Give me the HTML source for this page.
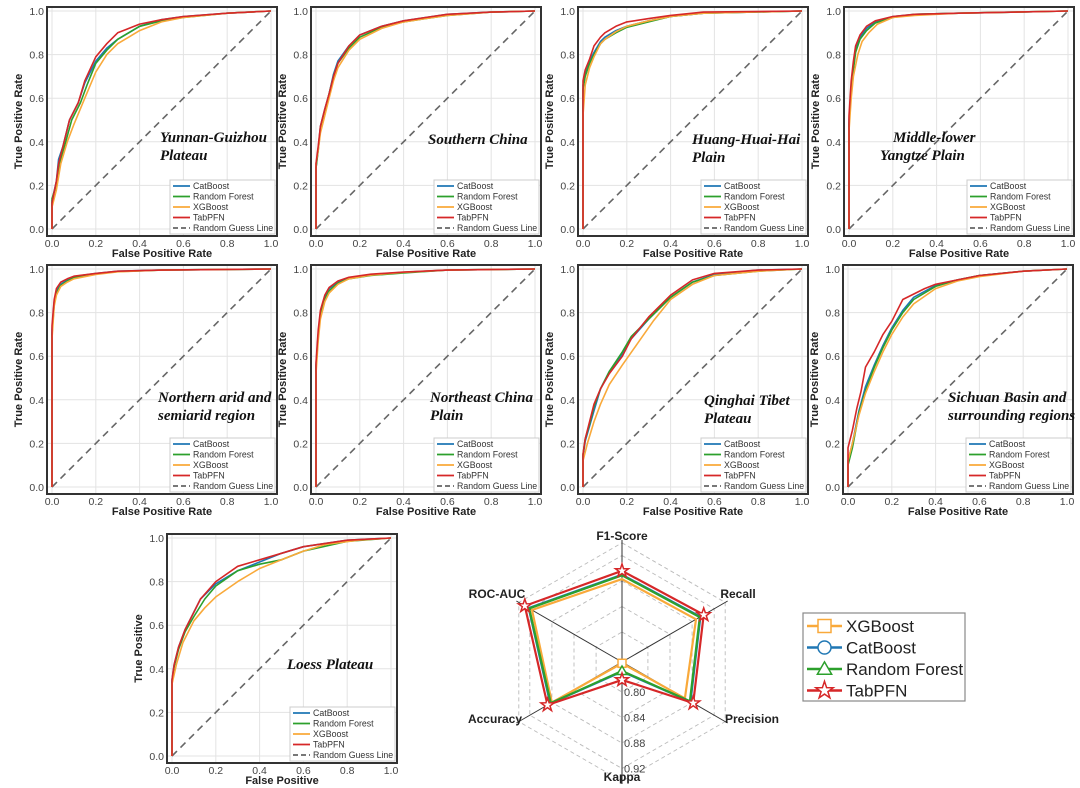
<!DOCTYPE html>
<html><head><meta charset="utf-8">
<style>
html,body{margin:0;padding:0;background:#fff;}
svg{display:block;font-family:"Liberation Sans",Arial,sans-serif;}
</style></head>
<body>
<svg id="fig" width="1080" height="788" viewBox="0 0 1080 788" xmlns="http://www.w3.org/2000/svg"></svg>
<script>
// ---------- ROC data (x = FPR, y = TPR) ----------
const yunnanCat = [[0,0],[0,0.13],[0.02,0.22],[0.03,0.32],[0.05,0.38],[0.08,0.5],[0.12,0.58],[0.15,0.67],[0.2,0.77],[0.25,0.83],[0.3,0.87],[0.4,0.93],[0.5,0.96],[0.6,0.975],[0.8,0.99],[1,1]];
const yunnanRF = [[0,0],[0,0.14],[0.02,0.2],[0.04,0.32],[0.06,0.39],[0.09,0.5],[0.13,0.58],[0.16,0.66],[0.2,0.76],[0.25,0.82],[0.3,0.87],[0.4,0.93],[0.5,0.955],[0.6,0.97],[0.8,0.99],[1,1]];
const yunnanXGB = [[0,0],[0,0.1],[0.02,0.18],[0.04,0.3],[0.07,0.4],[0.1,0.48],[0.15,0.6],[0.2,0.72],[0.25,0.8],[0.3,0.85],[0.4,0.91],[0.5,0.95],[0.6,0.97],[0.8,0.99],[1,1]];
const yunnanTab = [[0,0],[0,0.12],[0.02,0.22],[0.03,0.3],[0.05,0.38],[0.08,0.5],[0.12,0.58],[0.15,0.68],[0.2,0.79],[0.25,0.85],[0.3,0.9],[0.4,0.94],[0.5,0.96],[0.6,0.975],[0.8,0.99],[1,1]];

const southCat = [[0,0],[0,0.28],[0.01,0.37],[0.02,0.47],[0.04,0.55],[0.06,0.62],[0.08,0.71],[0.1,0.77],[0.15,0.84],[0.2,0.89],[0.3,0.93],[0.4,0.955],[0.5,0.97],[0.6,0.985],[0.8,0.995],[1,1]];
const southRF = [[0,0],[0,0.28],[0.01,0.36],[0.02,0.46],[0.04,0.54],[0.06,0.62],[0.08,0.7],[0.1,0.76],[0.15,0.83],[0.2,0.88],[0.3,0.925],[0.4,0.95],[0.5,0.965],[0.6,0.98],[0.8,0.995],[1,1]];
const southXGB = [[0,0],[0,0.3],[0.01,0.36],[0.02,0.44],[0.04,0.52],[0.06,0.6],[0.08,0.68],[0.1,0.74],[0.15,0.82],[0.2,0.87],[0.3,0.92],[0.4,0.95],[0.5,0.965],[0.6,0.98],[0.8,0.995],[1,1]];
const southTab = [[0,0],[0,0.3],[0.01,0.38],[0.02,0.47],[0.04,0.55],[0.06,0.62],[0.08,0.7],[0.1,0.76],[0.15,0.84],[0.2,0.89],[0.3,0.93],[0.4,0.955],[0.5,0.97],[0.6,0.985],[0.8,0.995],[1,1]];

const huangCat = [[0,0],[0,0.66],[0.01,0.71],[0.03,0.77],[0.05,0.81],[0.08,0.86],[0.1,0.88],[0.15,0.91],[0.2,0.93],[0.3,0.955],[0.4,0.975],[0.55,0.99],[1,1]];
const huangRF = [[0,0],[0,0.64],[0.01,0.7],[0.03,0.76],[0.05,0.8],[0.08,0.85],[0.1,0.87],[0.15,0.9],[0.2,0.925],[0.3,0.95],[0.4,0.975],[0.55,0.99],[1,1]];
const huangXGB = [[0,0],[0,0.52],[0.01,0.66],[0.03,0.74],[0.05,0.79],[0.08,0.85],[0.1,0.87],[0.15,0.905],[0.2,0.93],[0.3,0.955],[0.4,0.975],[0.55,0.99],[1,1]];
const huangTab = [[0,0],[0,0.68],[0.01,0.73],[0.03,0.78],[0.05,0.84],[0.08,0.88],[0.1,0.9],[0.15,0.93],[0.2,0.95],[0.3,0.965],[0.4,0.98],[0.55,0.995],[1,1]];

const middleCat = [[0,0],[0,0.5],[0.01,0.65],[0.02,0.75],[0.03,0.82],[0.05,0.88],[0.08,0.92],[0.12,0.95],[0.2,0.975],[0.3,0.985],[0.5,0.99],[1,1]];
const middleRF = [[0,0],[0,0.48],[0.01,0.63],[0.02,0.73],[0.03,0.81],[0.05,0.87],[0.08,0.91],[0.12,0.945],[0.2,0.97],[0.3,0.985],[0.5,0.99],[1,1]];
const middleXGB = [[0,0],[0,0.45],[0.01,0.6],[0.02,0.7],[0.04,0.8],[0.06,0.86],[0.09,0.9],[0.13,0.94],[0.2,0.97],[0.3,0.98],[0.5,0.99],[1,1]];
const middleTab = [[0,0],[0,0.52],[0.01,0.68],[0.02,0.77],[0.03,0.84],[0.05,0.89],[0.08,0.93],[0.12,0.955],[0.2,0.975],[0.3,0.985],[0.5,0.99],[1,1]];

const northCat = [[0,0],[0,0.72],[0.01,0.85],[0.02,0.9],[0.04,0.93],[0.07,0.95],[0.1,0.965],[0.2,0.98],[0.3,0.99],[0.5,0.995],[1,1]];
const northRF = [[0,0],[0,0.7],[0.01,0.84],[0.02,0.89],[0.04,0.925],[0.07,0.945],[0.1,0.96],[0.2,0.978],[0.3,0.988],[0.5,0.995],[1,1]];
const northXGB = [[0,0],[0,0.68],[0.01,0.83],[0.02,0.88],[0.04,0.92],[0.07,0.94],[0.1,0.955],[0.2,0.975],[0.3,0.987],[0.5,0.995],[1,1]];
const northTab = [[0,0],[0,0.74],[0.01,0.86],[0.02,0.91],[0.04,0.94],[0.07,0.955],[0.1,0.967],[0.2,0.98],[0.3,0.99],[0.5,0.995],[1,1]];

const neCat = [[0,0],[0,0.56],[0.01,0.7],[0.02,0.8],[0.04,0.87],[0.06,0.91],[0.1,0.94],[0.15,0.96],[0.25,0.975],[0.4,0.985],[0.6,0.995],[1,1]];
const neRF = [[0,0],[0,0.55],[0.01,0.69],[0.02,0.79],[0.04,0.86],[0.06,0.9],[0.1,0.935],[0.15,0.955],[0.25,0.97],[0.4,0.982],[0.6,0.995],[1,1]];
const neXGB = [[0,0],[0,0.52],[0.01,0.67],[0.02,0.77],[0.04,0.85],[0.06,0.89],[0.1,0.93],[0.15,0.955],[0.25,0.972],[0.4,0.985],[0.6,0.995],[1,1]];
const neTab = [[0,0],[0,0.57],[0.01,0.72],[0.02,0.81],[0.04,0.88],[0.06,0.915],[0.1,0.945],[0.15,0.962],[0.25,0.976],[0.4,0.986],[0.6,0.995],[1,1]];

const qingCat = [[0,0],[0,0.14],[0.01,0.21],[0.03,0.28],[0.05,0.35],[0.08,0.45],[0.12,0.53],[0.18,0.61],[0.22,0.68],[0.3,0.77],[0.4,0.87],[0.5,0.94],[0.6,0.975],[0.8,0.995],[1,1]];
const qingRF = [[0,0],[0,0.15],[0.01,0.22],[0.03,0.29],[0.05,0.37],[0.08,0.45],[0.12,0.53],[0.18,0.62],[0.22,0.69],[0.3,0.77],[0.4,0.87],[0.5,0.94],[0.6,0.97],[0.8,0.99],[1,1]];
const qingXGB = [[0,0],[0,0.12],[0.02,0.2],[0.05,0.3],[0.08,0.38],[0.12,0.47],[0.18,0.56],[0.25,0.66],[0.32,0.76],[0.4,0.86],[0.5,0.93],[0.6,0.97],[0.8,0.99],[1,1]];
const qingTab = [[0,0],[0,0.15],[0.01,0.22],[0.03,0.3],[0.05,0.38],[0.08,0.45],[0.12,0.52],[0.18,0.6],[0.22,0.68],[0.3,0.78],[0.4,0.88],[0.5,0.95],[0.6,0.98],[0.8,0.995],[1,1]];

const sichCat = [[0,0],[0,0.12],[0.02,0.2],[0.05,0.35],[0.08,0.46],[0.12,0.56],[0.16,0.65],[0.2,0.73],[0.25,0.81],[0.3,0.87],[0.4,0.925],[0.5,0.95],[0.6,0.97],[0.8,0.99],[1,1]];
const sichRF = [[0,0],[0,0.1],[0.02,0.18],[0.05,0.34],[0.08,0.44],[0.12,0.55],[0.16,0.64],[0.2,0.72],[0.25,0.8],[0.3,0.86],[0.4,0.92],[0.5,0.95],[0.6,0.97],[0.8,0.99],[1,1]];
const sichXGB = [[0,0],[0,0.12],[0.02,0.2],[0.05,0.33],[0.08,0.43],[0.12,0.53],[0.16,0.62],[0.2,0.7],[0.25,0.78],[0.3,0.84],[0.4,0.91],[0.5,0.945],[0.6,0.965],[0.8,0.99],[1,1]];
const sichTab = [[0,0],[0,0.18],[0.02,0.26],[0.04,0.36],[0.06,0.44],[0.08,0.55],[0.12,0.62],[0.16,0.7],[0.2,0.76],[0.25,0.86],[0.35,0.91],[0.4,0.93],[0.5,0.95],[0.6,0.97],[0.8,0.99],[1,1]];

const loessCat = [[0,0],[0,0.35],[0.01,0.42],[0.03,0.5],[0.06,0.58],[0.1,0.66],[0.13,0.72],[0.2,0.79],[0.3,0.85],[0.4,0.89],[0.5,0.93],[0.6,0.96],[0.8,0.99],[1,1]];
const loessRF = [[0,0],[0,0.34],[0.01,0.41],[0.03,0.49],[0.06,0.57],[0.1,0.64],[0.15,0.72],[0.2,0.78],[0.3,0.85],[0.4,0.88],[0.5,0.9],[0.6,0.94],[0.8,0.985],[1,1]];
const loessXGB = [[0,0],[0,0.33],[0.02,0.42],[0.05,0.52],[0.1,0.62],[0.15,0.68],[0.2,0.73],[0.3,0.8],[0.4,0.86],[0.5,0.9],[0.6,0.94],[0.7,0.97],[0.85,0.99],[1,1]];
const loessTab = [[0,0],[0,0.35],[0.01,0.42],[0.03,0.5],[0.06,0.58],[0.1,0.66],[0.13,0.72],[0.2,0.8],[0.3,0.87],[0.4,0.9],[0.5,0.93],[0.6,0.96],[0.8,0.99],[1,1]];

const axisTicks = [0, 0.2, 0.4, 0.6, 0.8, 1.0];
const tickLabels = ["0.0","0.2","0.4","0.6","0.8","1.0"];
const modelNames = ["CatBoost","Random Forest","XGBoost","TabPFN"];

// ---------- Radar data ----------
const radarAxes = ["F1-Score","Recall","Precision","Kappa","Accuracy","ROC-AUC"];
const radarXGB = [0.883, 0.887, 0.867, 0.755, 0.880, 0.916];
const radarCat = [0.890, 0.895, 0.877, 0.768, 0.883, 0.922];
const radarRF  = [0.889, 0.894, 0.876, 0.767, 0.882, 0.921];
const radarTab = [0.896, 0.901, 0.882, 0.781, 0.888, 0.929];
const radarRings = [0.80, 0.84, 0.88, 0.92];
const radarRingLabels = ["0.80","0.84","0.88","0.92"];

const NS = "http://www.w3.org/2000/svg";
const svg = document.getElementById("fig");
const COLORS = ["#1f77b4","#2ca02c","#f9a93a","#d62728"];
function mk(tag, attrs, parent){
  const e = document.createElementNS(NS, tag);
  for (const k in attrs) e.setAttribute(k, attrs[k]);
  (parent||svg).appendChild(e);
  return e;
}

const panels = [
  {fx:47,fy:7,title:["Yunnan-Guizhou","Plateau"],tx:160,ty:137,series:[yunnanCat,yunnanRF,yunnanXGB,yunnanTab],name:"yunnan-guizhou"},
  {fx:311,fy:7,title:["Southern China"],tx:428,ty:139,series:[southCat,southRF,southXGB,southTab],name:"southern-china"},
  {fx:578,fy:7,title:["Huang-Huai-Hai","Plain"],tx:692,ty:139,series:[huangCat,huangRF,huangXGB,huangTab],name:"huang-huai-hai"},
  {fx:844,fy:7,title:["Middle-lower","Yangtze Plain"],tx:893,ty:137,tx2:880,series:[middleCat,middleRF,middleXGB,middleTab],name:"middle-lower-yangtze"},
  {fx:47,fy:265,title:["Northern arid and","semiarid region"],tx:158,ty:397,series:[northCat,northRF,northXGB,northTab],name:"northern-arid"},
  {fx:311,fy:265,title:["Northeast China","Plain"],tx:430,ty:397,series:[neCat,neRF,neXGB,neTab],name:"northeast-china"},
  {fx:578,fy:265,title:["Qinghai Tibet","Plateau"],tx:704,ty:400,series:[qingCat,qingRF,qingXGB,qingTab],name:"qinghai-tibet"},
  {fx:843,fy:265,title:["Sichuan Basin and","surrounding regions"],tx:948,ty:397,series:[sichCat,sichRF,sichXGB,sichTab],name:"sichuan-basin"},
  {fx:167,fy:534,title:["Loess Plateau"],tx:287,ty:664,series:[loessCat,loessRF,loessXGB,loessTab],name:"loess-plateau",yl:"True Positive",xl:"False Positive"}
];

panels.forEach(p => {
  const W = 230, H = 229;
  const g = mk("g", {});
  
  
  const x0 = p.fx + 5, x1 = p.fx + W - 6, y0 = p.fy + H - 7, y1 = p.fy + 4;
  const sx = v => x0 + v * (x1 - x0);
  const sy = v => y0 - v * (y0 - y1);
  // grid
  axisTicks.forEach((t,i) => {
    mk("line",{x1:sx(t),x2:sx(t),y1:p.fy,y2:p.fy+H,stroke:"#e3e3e3","stroke-width":1},g);
    mk("line",{x1:p.fx,x2:p.fx+W,y1:sy(t),y2:sy(t),stroke:"#e3e3e3","stroke-width":1},g);
    const tx = mk("text",{x:sx(t),y:p.fy+H+11,"font-size":10.5,fill:"#444","text-anchor":"middle"},g);
    tx.textContent = tickLabels[i];
    
    
    const ty = mk("text",{x:p.fx-3,y:sy(t)+4,"font-size":10.5,fill:"#444","text-anchor":"end"},g);
    ty.textContent = tickLabels[i];
    
    
  });
  // diagonal
  const d = mk("line",{x1:sx(0),y1:sy(0),x2:sx(1),y2:sy(1),stroke:"#666","stroke-width":1.6,"stroke-dasharray":"7,5"},g);
  
  
  // curves
  p.series.forEach((s,i) => {
    const pts = s.map(q => sx(q[0]).toFixed(1)+","+sy(q[1]).toFixed(1)).join(" ");
    const pl = mk("polyline",{points:pts,fill:"none",stroke:COLORS[i],"stroke-width":1.6,"stroke-linejoin":"round"},g);
    
    
  });
  // frame
  mk("rect",{x:p.fx,y:p.fy,width:W,height:H,fill:"none",stroke:"#333","stroke-width":2},g);
  // axis titles
  const xl = mk("text",{x:p.fx+W/2,y:p.fy+H+21,"font-size":11,"font-weight":"bold",fill:"#222","text-anchor":"middle"},g);
  xl.textContent = p.xl || "False Positive Rate";
  
  
  const cy = p.fy + H/2;
  const yl = mk("text",{x:p.fx-25,y:cy,"font-size":11,"font-weight":"bold",fill:"#222","text-anchor":"middle",transform:`rotate(-90 ${p.fx-25} ${cy})`},g);
  yl.textContent = p.yl || "True Positive Rate";
  
  
  // region title
  p.title.forEach((t,i) => {
    const tt = mk("text",{x:(i===1&&p.tx2)?p.tx2:p.tx,y:p.ty+5+i*18,"font-size":15,"font-weight":"bold","font-style":"italic","font-family":"Liberation Serif, serif",fill:"#111"},g);
    tt.textContent = t;
    
    
  });
  // legend
  const lx = p.fx + W - 107, ly = p.fy + H - 56;
  const lg = mk("g",{},g);
  
  
  mk("rect",{x:lx,y:ly,width:105,height:54,fill:"#fff",stroke:"#ccc","stroke-width":1},lg);
  const labels = modelNames.concat(["Random Guess Line"]);
  labels.forEach((l,i) => {
    const yy = ly + 6 + i*10.5;
    mk("line",{x1:lx+3,x2:lx+20,y1:yy,y2:yy,stroke:i<4?COLORS[i]:"#666","stroke-width":1.8,"stroke-dasharray":i<4?"none":"5,3"},lg);
    const t = mk("text",{x:lx+23,y:yy+3.2,"font-size":8.8,fill:"#333"},lg);
    t.textContent = l;
    
    
  });
});

// ---------- Radar ----------
const rc = {x:622, y:662};
const rMin = 0.753, rScale = 637.5;
const rr = v => (v - rMin) * rScale;
const angles = [90, 30, -30, -90, -150, 150].map(a => a*Math.PI/180);
const pt = (i, r) => [rc.x + r*Math.cos(angles[i]), rc.y - r*Math.sin(angles[i])];
const rg = mk("g",{});


radarRings.concat([0.94]).forEach(v => {
  const pts = angles.map((a,i) => pt(i, rr(v)).map(n=>n.toFixed(1)).join(",")).join(" ");
  mk("polygon",{points:pts,fill:"none",stroke:"#bbb","stroke-width":0.9,"stroke-dasharray":"4,3"},rg);
});
angles.forEach((a,i) => {
  const e = pt(i, 122);
  mk("line",{x1:rc.x,y1:rc.y,x2:e[0],y2:e[1],stroke:"#333","stroke-width":1},rg);
});
radarRings.forEach((v,i) => {
  const t = mk("text",{x:rc.x+2,y:rc.y+rr(v)+4,"font-size":11,fill:"#444"},rg);
  t.textContent = radarRingLabels[i];
  
  
});
const axisLabelPos = [[622,540,"middle"],[738,598,"middle"],[752,723,"middle"],[622,781,"middle"],[495,723,"middle"],[497,598,"middle"]];
radarAxes.forEach((l,i) => {
  const t = mk("text",{x:axisLabelPos[i][0],y:axisLabelPos[i][1],"font-size":12,"font-weight":"bold",fill:"#222","text-anchor":axisLabelPos[i][2]},rg);
  t.textContent = l;
  
  
});
const radarSeries = [radarXGB, radarCat, radarRF, radarTab];
const radarColors = ["#f9a93a","#1f77b4","#2ca02c","#d62728"];
const radarNames = ["XGBoost","CatBoost","Random Forest","TabPFN"];
function marker(parent, kind, x, y, color, s){
  if (kind===0) return mk("rect",{x:x-s,y:y-s,width:2*s,height:2*s,fill:"#fff",stroke:color,"stroke-width":1.5},parent);
  if (kind===1) return mk("circle",{cx:x,cy:y,r:s,fill:"#fff",stroke:color,"stroke-width":1.5},parent);
  if (kind===2) return mk("polygon",{points:`${x},${y-s*1.1} ${x+s*1.1},${y+s*0.8} ${x-s*1.1},${y+s*0.8}`,fill:"#fff",stroke:color,"stroke-width":1.5},parent);
  let pts=[];
  for(let k=0;k<10;k++){const a=-Math.PI/2+k*Math.PI/5;const r=k%2?s*0.45:s*1.15;pts.push((x+r*Math.cos(a)).toFixed(1)+","+(y+r*Math.sin(a)).toFixed(1));}
  return mk("polygon",{points:pts.join(" "),fill:"#fff",stroke:color,"stroke-width":1.5},parent);
}
radarSeries.forEach((s,si) => {
  const sg = mk("g",{},rg);
  
  
  const pts = s.map((v,i) => pt(i, rr(v)));
  mk("polygon",{points:pts.map(q=>q.map(n=>n.toFixed(1)).join(",")).join(" "),fill:"none",stroke:radarColors[si],"stroke-width":2.2},sg);
  if (si===3) pts.forEach(q => marker(sg, 3, q[0], q[1], radarColors[si], 6));
  else if (si===0) marker(sg, 0, pts[3][0], pts[3][1], radarColors[si], 4);
  else if (si===2) marker(sg, 2, pts[3][0], pts[3][1], radarColors[si], 4.5);
});
// radar legend
const lgd = mk("g",{});


mk("rect",{x:803,y:613,width:162,height:88,fill:"#fff",stroke:"#888","stroke-width":1.2},lgd);
radarNames.forEach((n,i) => {
  const yy = 626 + i*21.5;
  mk("line",{x1:807,x2:842,y1:yy,y2:yy,stroke:radarColors[i],"stroke-width":2.6},lgd);
  marker(lgd, i, 824.5, yy, radarColors[i], i===3?8:6.5);
  const t = mk("text",{x:846,y:yy+6,"font-size":17,fill:"#222"},lgd);
  t.textContent = n;
  
  
});
</script>
</body></html>
